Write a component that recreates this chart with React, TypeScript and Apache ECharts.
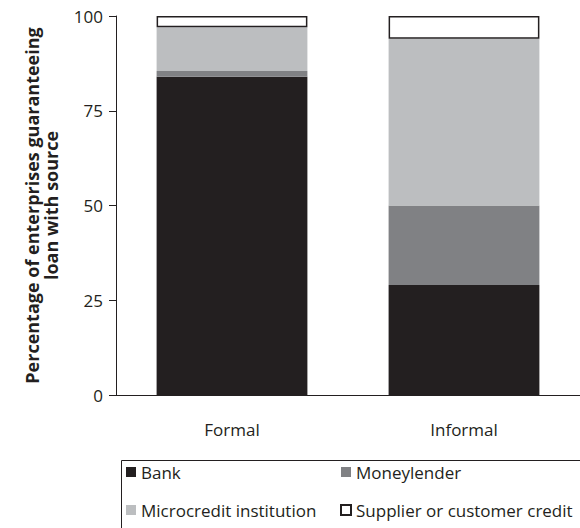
import React, { useEffect, useRef } from "react";
import * as echarts from "echarts";

const categories = ["Formal", "Informal"];
const bank = [84, 29];
const moneylender = [1.5, 21];
const microcredit = [11.5, 44];
const supplier = [3, 6];
const yTicks = [0, 25, 50, 75, 100];

const FONT = "'Open Sans', 'Noto Sans', sans-serif";
const INK = "#231f20";
const FS = 17;

export default function App() {
  const ref = useRef<HTMLDivElement>(null);
  useEffect(() => {
    document.body.style.margin = "0";
    const chart = echarts.init(ref.current!, null, { renderer: "svg" });
    const mk = (name: string, data: number[], color: string, border?: boolean) => ({
      name,
      type: "bar",
      stack: "s",
      data,
      barWidth: "65%",
      itemStyle: border
        ? { color: "#ffffff", borderColor: INK, borderWidth: 1.5 }
        : { color },
    });
    const legendText = { fontSize: FS, color: INK, fontFamily: FONT, lineHeight: 18 };
    const legendBase = {
      orient: "vertical",
      top: 463,
      padding: 0,
      height: 60,
      itemWidth: 10,
      itemHeight: 10,
      itemGap: 20,
      icon: "rect",
      textStyle: legendText,
    };
    chart.setOption({
      animation: false,
      textStyle: { fontFamily: FONT },
      grid: { left: 116, top: 16, width: 473, height: 379 },
      xAxis: {
        type: "category",
        data: categories,
        axisLine: { lineStyle: { color: INK, width: 1 } },
        axisTick: { length: 7, lineStyle: { color: INK } },
        axisLabel: { fontSize: FS, color: INK, margin: 26, fontFamily: FONT },
      },
      yAxis: {
        type: "value",
        min: yTicks[0],
        max: yTicks[yTicks.length - 1],
        interval: 25,
        splitLine: { show: false },
        axisLine: { show: true, lineStyle: { color: INK, width: 1 } },
        axisTick: { show: true, length: 7, lineStyle: { color: INK } },
        axisLabel: { fontSize: FS, color: INK, margin: 13, fontFamily: FONT },
        name: "Percentage of enterprises guaranteeing\nloan with source",
        nameLocation: "middle",
        nameGap: 56,
        nameTextStyle: {
          fontSize: 18,
          fontWeight: "bold",
          color: INK,
          lineHeight: 19,
          fontFamily: FONT,
        },
      },
      legend: [
        { ...legendBase, data: ["Bank", "Microcredit institution"], left: 126 },
        { ...legendBase, data: ["Moneylender", "Supplier or customer credit"], left: 340 },
      ],
      graphic: [
        {
          type: "rect",
          left: 119,
          top: 458,
          shape: { width: 480, height: 100 },
          style: { fill: "none", stroke: INK, lineWidth: 1 },
          silent: true,
        },
      ],
      series: [
        mk("Bank", bank, INK),
        mk("Moneylender", moneylender, "#808184"),
        mk("Microcredit institution", microcredit, "#bcbec0"),
        mk("Supplier or customer credit", supplier, "#ffffff", true),
      ],
    });
    return () => chart.dispose();
  }, []);
  return <div ref={ref} style={{ width: 580, height: 528 }} />;
}
